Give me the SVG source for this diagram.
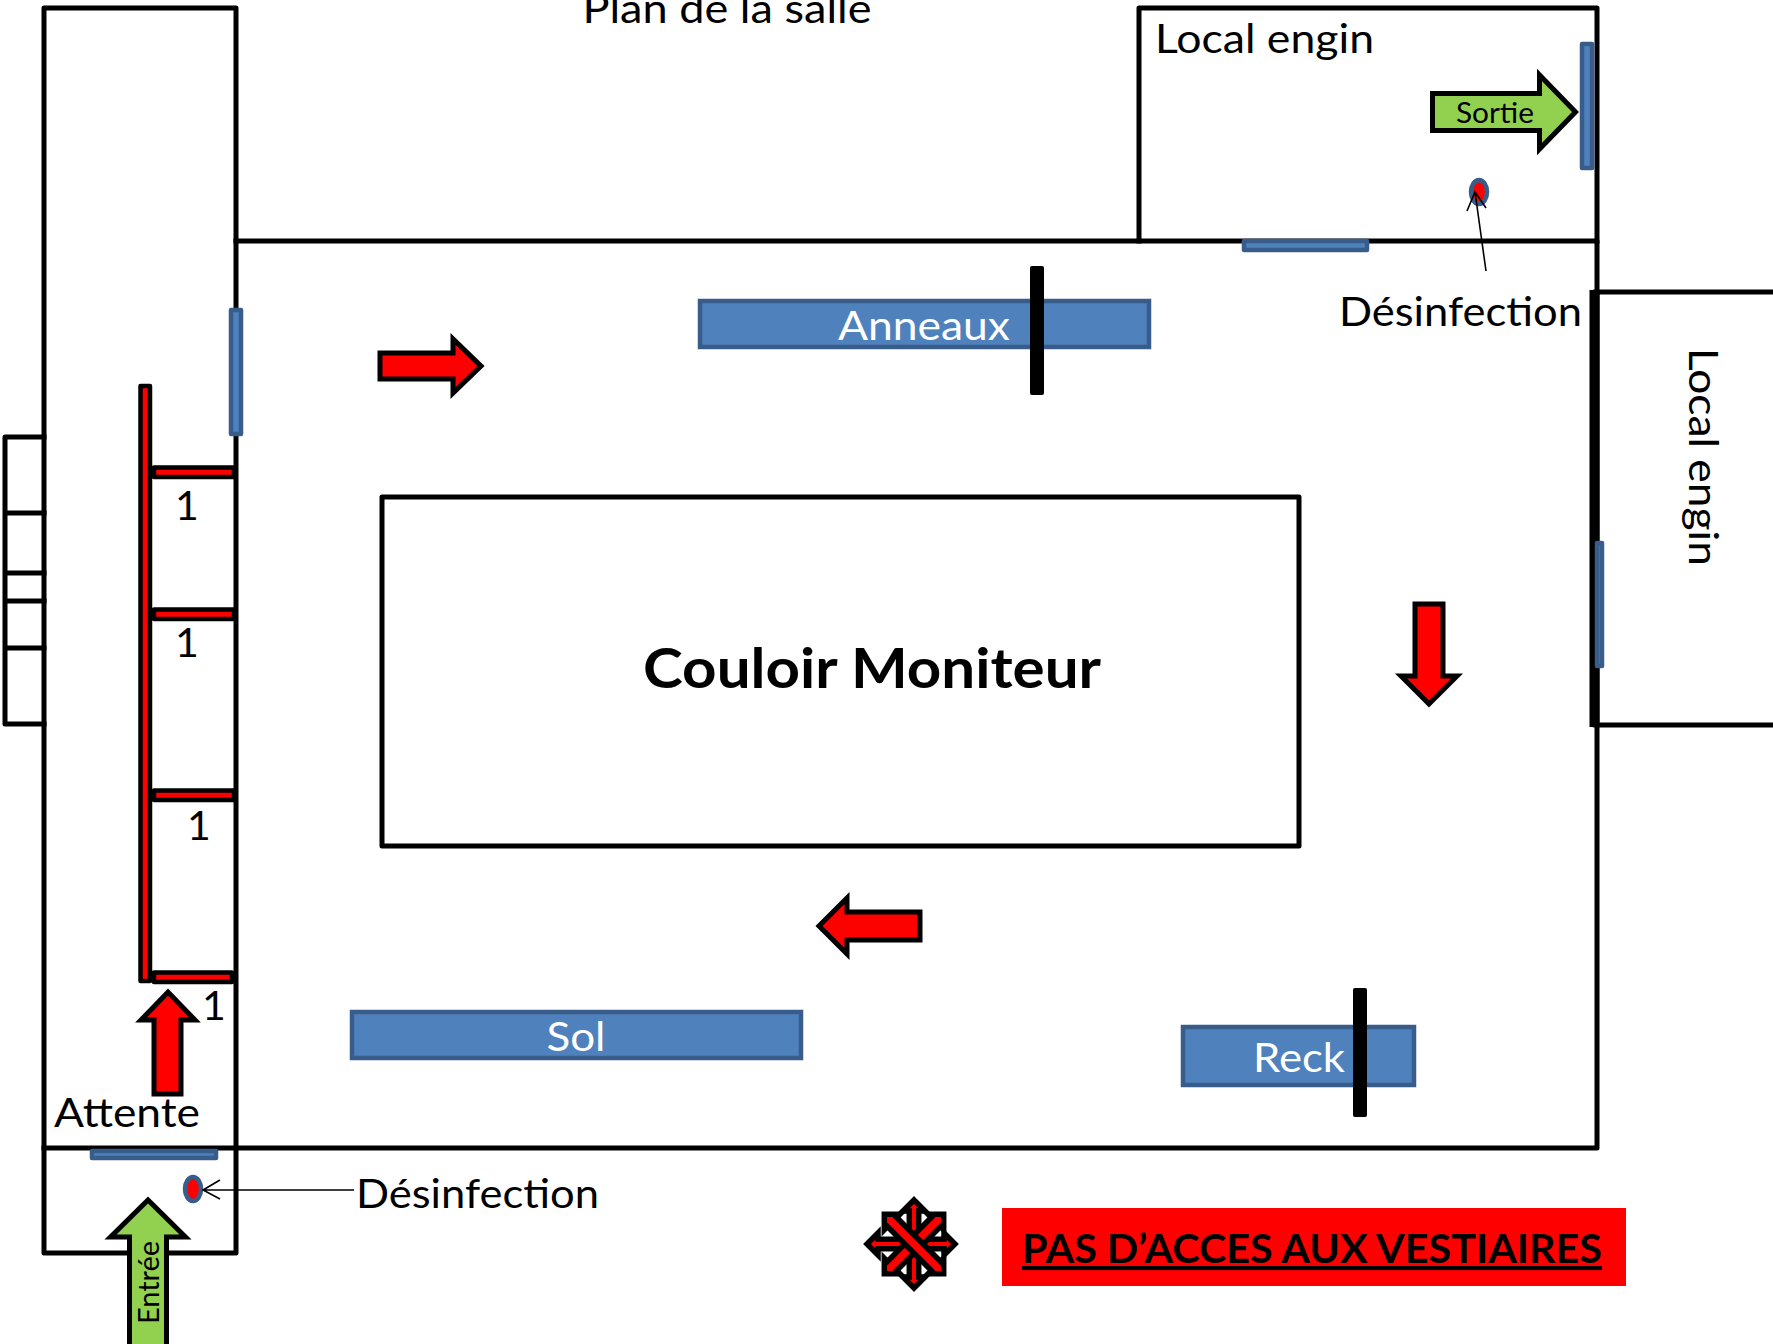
<svg xmlns="http://www.w3.org/2000/svg" width="1773" height="1344" viewBox="0 0 1773 1344">
<style>
text{font-family:Lato,"Open Sans","Liberation Sans",sans-serif;fill:#000}
.w{fill:none;stroke:#000;stroke-width:5;stroke-linejoin:round;stroke-linecap:square}
.door{fill:#4f81bd;stroke:#385d8a;stroke-width:4.5;stroke-linejoin:round}
.app{fill:#4f81bd;stroke:#385d8a;stroke-width:4.5}
.bar{fill:#000}
.red{fill:#f00;stroke:#000;stroke-width:4.5;stroke-linejoin:round}
.arr{fill:#f00;stroke:#000;stroke-width:5;stroke-linejoin:miter;stroke-miterlimit:10}
.grn{fill:#92d050;stroke:#000;stroke-width:5;stroke-linejoin:miter;stroke-miterlimit:10}
.dot{fill:#f00;stroke:#385d8a;stroke-width:4.5}
.thin{fill:none;stroke:#000;stroke-width:1.6}
.t{font-size:41px}
.a{font-size:41px;fill:#fff}
.n{font-size:41px}
.sym{fill:#f00;stroke:#000;stroke-width:5.500;stroke-linejoin:miter;stroke-miterlimit:10}
</style>
<g id="walls">
<path class="w" d="M44 8H236V1253H44Z"/>
<path class="w" d="M44 1148H1597V241H236"/>
<path class="w" d="M1139 241V8H1597V241"/>
<path class="w" d="M1773 292H1594V725H1773"/>
<path d="M1594.500 290V727" stroke="#000" stroke-width="10" fill="none"/>
<path class="w" d="M44 437H5V724H44M5 513H44M5 573H44M5 601H44M5 648H44"/>
</g>
<g id="barriers">
<rect class="red" x="140.500" y="386" width="9.500" height="595"/>
<rect class="red" x="154" y="467.500" width="80" height="9.500"/>
<rect class="red" x="154" y="609.500" width="80" height="9.500"/>
<rect class="red" x="154" y="790.500" width="80" height="9.500"/>
<rect class="red" x="154" y="972.500" width="78" height="9.500"/>
</g>
<g id="doors">
<rect class="door" x="231" y="310" width="10" height="124"/>
<rect class="door" x="1582" y="44" width="10" height="124"/>
<rect class="door" x="1244" y="241" width="123" height="9"/>
<rect class="door" x="1597" y="543" width="5" height="123"/>
<rect class="door" x="92" y="1151" width="124" height="7"/>
</g>
<g id="anneaux">
<rect class="app" x="700" y="301" width="449" height="46"/>
<rect class="bar" x="1030" y="266" width="14" height="129" rx="2"/>
<text class="a" x="924" y="340" text-anchor="middle" textLength="172" lengthAdjust="spacingAndGlyphs">Anneaux</text>
</g>
<g id="sol">
<rect class="app" x="352" y="1012" width="449" height="46"/>
<text class="a" x="576" y="1051" text-anchor="middle" textLength="59" lengthAdjust="spacingAndGlyphs">Sol</text>
</g>
<g id="reck">
<rect class="app" x="1183" y="1027" width="231" height="58"/>
<rect class="bar" x="1353" y="988" width="14" height="129" rx="2"/>
<text class="a" x="1299" y="1072" text-anchor="middle" textLength="92" lengthAdjust="spacingAndGlyphs">Reck</text>
</g>
<g id="couloir">
<rect class="w" x="382" y="497" width="917" height="349"/>
<text x="872" y="688" font-size="55" font-weight="700" text-anchor="middle" textLength="458" lengthAdjust="spacingAndGlyphs">Couloir Moniteur</text>
</g>
<g id="arrows">
<path class="arr" d="M380 353H453V339L481 366L453 393V379H380Z"/>
<path class="arr" d="M1415 604H1443V676H1457L1429 704L1401 676H1415Z"/>
<path class="arr" d="M920 912H847V898L819 926L847 954V940H920Z"/>
<path class="arr" d="M154 1094V1020H141L168 992L195 1020H181V1094Z"/>
</g>
<g id="sortie">
<path class="grn" d="M1432.500 93.500H1539.500V75L1575.500 112L1539.500 149V130.500H1432.500Z"/>
<text x="1495" y="123" font-size="28" text-anchor="middle" textLength="78" lengthAdjust="spacingAndGlyphs">Sortie</text>
</g>
<g id="entree">
<path class="grn" d="M129.500 1348V1237H110.500L148 1200L185.500 1237H166.500V1348Z"/>
<text transform="translate(159 1324) rotate(-90)" font-size="28" textLength="83" lengthAdjust="spacingAndGlyphs">Entrée</text>
</g>
<g id="desinfection1">
<ellipse class="dot" cx="1479" cy="192" rx="8" ry="12"/>
<path class="thin" d="M1486 271L1475 192M1467 211L1475 192L1486 208"/>
<text class="t" x="1339" y="326" textLength="243" lengthAdjust="spacingAndGlyphs">Désinfection</text>
</g>
<g id="desinfection2">
<ellipse class="dot" cx="193" cy="1189" rx="8" ry="12"/>
<path class="thin" d="M354 1190H203M220 1180L203 1190L220 1199"/>
<text class="t" x="356" y="1208" textLength="243" lengthAdjust="spacingAndGlyphs">Désinfection</text>
</g>
<g id="labels">
<text class="t" x="727" y="23" text-anchor="middle" textLength="289" lengthAdjust="spacingAndGlyphs">Plan de la salle</text>
<text class="t" x="1155" y="53" textLength="219" lengthAdjust="spacingAndGlyphs">Local engin</text>
<text class="t" transform="translate(1689 348) rotate(90)" textLength="218" lengthAdjust="spacingAndGlyphs">Local engin</text>
<text class="t" x="54" y="1127" textLength="146" lengthAdjust="spacingAndGlyphs">Attente</text>
<text class="n" x="175" y="520">1</text>
<text class="n" x="175" y="657">1</text>
<text class="n" x="187" y="840">1</text>
<text class="n" x="202" y="1020">1</text>
</g>
<g id="forbidden" transform="translate(914 1244)">
<path class="sym" transform="translate(-3 0)" d="M-44 0L-33 -11V-4.700H33V-11L44 0L33 11V4.700H-33V11Z"/>
<path class="sym" transform="rotate(90)" d="M-44 0L-33 -11V-4.700H33V-11L44 0L33 11V4.700H-33V11Z"/>
<path class="sym" transform="rotate(-45)" d="M-42 0L-31 -11V-6.500H31V-11L42 0L31 11V6.500H-31V11Z"/>
<path class="sym" transform="rotate(45)" d="M-42 0L-31 -11V-6.500H31V-11L42 0L31 11V6.500H-31V11Z"/>
</g>
<g id="warning">
<rect x="1002" y="1208" width="624" height="78" fill="#f00"/>
<text x="1022" y="1263" font-size="41" font-weight="700" text-decoration="underline" textLength="580" lengthAdjust="spacingAndGlyphs">PAS D’ACCES AUX VESTIAIRES</text>
</g>
</svg>
